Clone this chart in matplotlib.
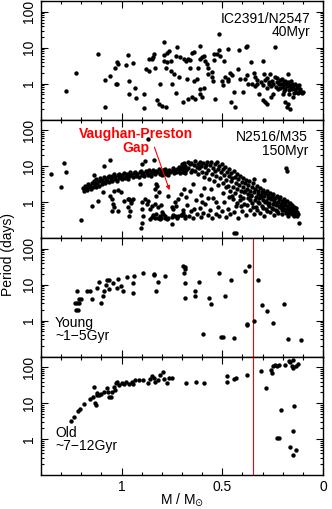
import numpy as np
import matplotlib
matplotlib.use("Agg")
import matplotlib.pyplot as plt
from matplotlib.ticker import LogLocator, FixedLocator, FixedFormatter, MultipleLocator, NullFormatter

plt.rcParams['font.family'] = ['Liberation Sans', 'DejaVu Sans']

# ---- IC2391/N2547 (40 Myr)
m40 = [1.277, 1.228, 1.117, 1.083, 1.084, 1.058, 1.035, 1.021, 1.02, 1.03, 1.022, 0.98,
       0.967, 0.964, 0.964, 0.942, 0.931, 0.926, 0.889, 0.89, 0.88, 0.865, 0.865, 0.85,
       0.845, 0.84, 0.835, 0.823, 0.815, 0.80, 0.78, 0.807, 0.79, 0.79, 0.777, 0.766,
       0.79, 0.774, 0.757, 0.78, 0.757, 0.741, 0.75, 0.724, 0.73, 0.708, 0.691, 0.716,
       0.73, 0.695, 0.68, 0.67, 0.658, 0.675, 0.67, 0.658, 0.65, 0.642, 0.65, 0.634,
       0.642, 0.625, 0.622, 0.609, 0.60, 0.612, 0.592, 0.584, 0.576, 0.573, 0.609, 0.592,
       0.612, 0.60, 0.55, 0.547, 0.54, 0.543, 0.535, 0.526, 0.518, 0.51, 0.515, 0.50,
       0.497, 0.493, 0.488, 0.474, 0.47, 0.47, 0.46, 0.455, 0.452, 0.444, 0.436, 0.424,
       0.416, 0.411, 0.397, 0.381, 0.378, 0.386, 0.378, 0.37, 0.358, 0.353, 0.345, 0.337,
       0.328, 0.32, 0.30, 0.295, 0.287, 0.279, 0.279, 0.27, 0.262, 0.254, 0.246, 0.238,
       0.229, 0.22, 0.213, 0.205, 0.196, 0.188, 0.18, 0.18, 0.172, 0.163, 0.163, 0.155,
       0.147, 0.14, 0.13, 0.122, 0.114, 0.105, 0.097,
       0.34, 0.33, 0.31, 0.30, 0.29, 0.28, 0.27, 0.26, 0.25, 0.24, 0.235, 0.23, 0.225,
       0.215, 0.21, 0.2, 0.2, 0.195, 0.19, 0.185, 0.175, 0.17, 0.165, 0.16, 0.155, 0.15,
       0.145, 0.14, 0.135, 0.125, 0.12, 0.115, 0.11, 0.19, 0.175, 0.17, 0.2, 0.3, 0.26,
       0.55, 0.57]
p40 = [0.64, 1.98, 6.7, 0.22, 1.29, 1.67, 2.67, 4.1, 3.5, 1.0, 0.95, 3.3,
       6.2, 1.2, 0.52, 3.8, 0.76, 0.39, 0.21, 0.52, 2.55, 4.8, 2.3, 5.0,
       5.4, 6.5, 2.8, 0.36, 0.27, 0.245, 0.22, 0.98, 14, 6.2, 7.1, 8.2,
       4.4, 3.9, 4.4, 2.8, 2.3, 1.86, 0.98, 10.2, 6.0, 5.4, 4.8, 1.56,
       0.54, 0.30, 4.4, 4.8, 4.5, 1.35, 0.375, 2.8, 7.0, 7.4, 0.42, 0.37,
       1.2, 1.35, 2.8, 4.8, 5.4, 11.4, 6.0, 4.4, 3.5, 2.8, 0.71, 0.76,
       0.52, 0.42, 2.15, 1.2, 4.5, 6.7, 0.37, 6.9, 8.6, 6.0, 24, 1.2,
       0.92, 4.4, 1.5, 1.2, 1.35, 9.3, 2.0, 0.30, 1.7, 0.58, 0.22, 2.5,
       8.5, 1.35, 0.58, 10.2, 11, 1.35, 1.7, 0.98, 4.0, 1.0, 2.0, 0.88,
       0.98, 0.52, 4.2, 1.8, 0.31, 1.45, 0.27, 0.95, 1.8, 1.21, 0.52, 10.2,
       1.45, 0.98, 0.75, 1.35, 0.64, 1.2, 0.86, 0.22, 1.8, 0.79, 0.20, 1.0,
       0.42, 0.7, 0.85, 0.75, 0.64, 0.56, 0.6,
       1.5, 1.3, 1.1, 0.9, 1.25, 0.75, 1.1, 0.85, 0.95, 1.5, 0.8, 1.1, 0.7,
       1.25, 0.95, 1.0, 0.8, 1.1, 0.7, 0.95, 1.1, 0.65, 0.9, 1.2, 0.7, 0.85,
       0.55, 1.0, 0.6, 0.55, 0.9, 0.7, 0.6, 0.3, 0.27, 0.5, 0.5, 0.35, 0.42,
       1.5, 1.9]

# ---- N2516/M35 (150 Myr), (mass, period) pairs
seq150 = [(1.192, 2.4), (1.186, 2.1), (1.183, 2.9), (1.177, 2.5), (1.171, 2.2), (1.169, 3.2),
          (1.163, 2.6), (1.158, 2.9), (1.152, 2.3), (1.149, 3.5), (1.141, 2.7), (1.139, 3.9),
          (1.134, 3.1), (1.128, 2.6), (1.126, 4.3), (1.121, 3.4), (1.114, 2.9), (1.111, 3.8),
          (1.108, 4.6), (1.099, 3.2), (1.097, 4.2), (1.093, 3.6), (1.085, 5.1), (1.083, 3.3),
          (1.079, 4.4), (1.071, 3.9), (1.069, 4.9), (1.064, 5.5), (1.061, 3.6), (1.052, 4.5),
          (1.049, 5.2), (1.046, 3.9), (1.038, 5.9), (1.033, 4.4), (1.031, 5.0), (1.024, 3.8),
          (1.019, 5.6), (1.015, 4.6), (1.011, 6.2), (1.003, 5.1), (0.998, 4.3), (0.996, 5.8),
          (0.988, 6.5), (0.983, 4.7), (0.979, 5.4), (0.971, 6.1), (0.968, 4.5), (0.961, 5.2),
          (0.957, 6.7), (0.951, 5.8), (0.944, 4.9), (0.938, 6.4), (0.933, 7.0), (0.927, 5.5),
          (0.921, 6.1), (0.916, 5.1), (0.909, 6.9), (0.903, 7.5), (0.898, 5.7), (0.893, 6.3),
          (0.887, 5.2), (0.881, 7.2), (0.876, 6.6), (0.871, 5.8), (0.866, 7.6), (0.861, 6.2),
          (0.853, 5.5), (0.849, 7.0), (0.844, 8.0), (0.839, 6.4), (0.832, 5.9), (0.828, 7.4),
          (0.822, 6.8), (0.816, 8.3), (0.811, 6.0), (0.806, 7.1), (0.801, 5.6), (0.796, 7.8),
          (0.791, 6.5), (0.786, 8.6), (0.779, 6.1), (0.774, 7.3), (0.768, 5.8), (0.763, 8.0),
          (0.759, 6.8), (0.752, 7.5), (0.747, 9.0), (0.741, 6.3), (0.737, 7.9), (0.731, 6.9),
          (0.726, 8.5), (0.719, 7.2), (0.716, 9.6), (0.711, 6.6), (0.704, 8.2), (0.699, 10.4),
          (0.694, 7.0), (0.689, 9.1), (0.684, 6.4)]
gk150 = [(1.35, 6.0), (1.302, 2.7), (1.287, 12.1), (1.277, 7.1), (1.203, 0.32), (1.145, 0.79),
         (1.116, 1.09), (1.137, 5.6), (1.058, 14.7), (1.094, 1.94), (1.058, 1.44), (1.05, 1.2),
         (1.04, 2.06), (1.016, 2.2), (1.005, 1.94), (1.045, 0.88), (1.036, 0.71), (1.05, 0.57),
         (0.964, 1.26), (0.954, 1.09), (0.942, 1.21), (0.97, 0.71), (0.959, 0.57), (0.964, 0.42),
         (0.901, 11.8), (0.884, 14.1), (0.909, 3.2), (0.871, 56), (0.9, 0.98), (0.884, 1.21),
         (0.876, 0.88), (0.868, 1.09), (0.851, 0.79), (0.86, 0.64), (0.9, 0.64), (0.893, 0.42),
         (0.9, 0.27), (0.904, 0.19), (0.838, 15), (0.827, 3.2), (0.822, 2.84), (0.835, 2.3),
         (0.827, 1.5), (0.813, 1.86), (0.835, 0.88), (0.818, 0.71), (0.802, 0.82), (0.827, 0.46),
         (0.81, 0.4), (0.799, 0.52), (0.785, 0.42), (0.769, 1.44), (0.752, 0.74), (0.744, 0.64),
         (0.736, 0.98), (0.728, 0.79), (0.749, 0.24), (0.719, 1.21), (0.703, 1.67), (1.02, 0.56),
         (0.99, 1.07), (0.97, 1.2), (0.955, 0.96), (1.087, 10),
         (0.85, 0.38), (0.835, 0.37), (0.818, 0.36), (0.802, 0.36), (0.785, 0.36), (0.769, 0.37),
         (0.752, 0.39), (0.736, 0.4), (0.719, 0.42), (0.703, 0.43), (0.686, 0.42), (0.843, 0.45),
         (0.793, 0.47), (0.744, 0.45), (0.695, 0.5), (0.86, 0.33), (0.81, 0.34), (0.776, 0.33),
         (0.727, 0.37)]
km150 = [(0.702, 11.8), (0.697, 8.8), (0.688, 12.6), (0.683, 10.1), (0.679, 7.6), (0.671, 13.4),
         (0.668, 9.2), (0.662, 11.2), (0.657, 6.8), (0.653, 12.1), (0.648, 8.1), (0.643, 10.6),
         (0.637, 13.8), (0.634, 7.2), (0.628, 9.6), (0.623, 11.9), (0.619, 5.9), (0.614, 8.8),
         (0.611, 13.0), (0.606, 10.3), (0.601, 7.0), (0.596, 12.2), (0.592, 5.1), (0.588, 9.3),
         (0.583, 11.0), (0.579, 6.6), (0.574, 13.4), (0.569, 8.0), (0.566, 4.4), (0.561, 10.6),
         (0.556, 12.8), (0.552, 6.2), (0.547, 9.0), (0.543, 3.8), (0.538, 11.6), (0.534, 7.4),
         (0.529, 5.2), (0.526, 13.1), (0.521, 8.6), (0.517, 10.2), (0.512, 4.6), (0.508, 6.7),
         (0.503, 11.8), (0.499, 3.3), (0.495, 8.2), (0.49, 5.8), (0.487, 9.8), (0.481, 4.2),
         (0.478, 7.1), (0.472, 2.9), (0.469, 5.3), (0.466, 8.6), (0.459, 3.8), (0.456, 6.3),
         (0.451, 4.7), (0.447, 2.6), (0.443, 7.4), (0.438, 5.0), (0.434, 3.4), (0.429, 6.1),
         (0.426, 2.3), (0.421, 4.4), (0.417, 3.0), (0.412, 5.4), (0.408, 2.1), (0.404, 3.7),
         (0.399, 4.7), (0.396, 2.6), (0.391, 1.9), (0.387, 3.4), (0.384, 4.2), (0.378, 2.3),
         (0.374, 1.7), (0.371, 3.0), (0.366, 3.9), (0.362, 2.0), (0.358, 1.5), (0.353, 2.7),
         (0.349, 3.4), (0.345, 4.3), (0.342, 1.9), (0.337, 2.3), (0.333, 1.4), (0.329, 2.9),
         (0.325, 1.7), (0.321, 2.1), (0.316, 1.3), (0.313, 2.5), (0.308, 1.6), (0.304, 1.9),
         (0.299, 1.15), (0.296, 2.2), (0.291, 1.45), (0.288, 1.75), (0.283, 1.05), (0.279, 2.0),
         (0.274, 1.3), (0.271, 1.6), (0.266, 0.95), (0.262, 1.85), (0.258, 1.2), (0.254, 1.45),
         (0.249, 0.9), (0.246, 1.65), (0.241, 1.1), (0.237, 1.3), (0.233, 0.82), (0.229, 1.5),
         (0.224, 1.0), (0.221, 1.2), (0.216, 0.75), (0.212, 1.35), (0.208, 0.9), (0.204, 1.1),
         (0.199, 0.7), (0.195, 1.2), (0.191, 0.85), (0.187, 1.0), (0.183, 0.65), (0.179, 1.1),
         (0.174, 0.78), (0.171, 0.9), (0.166, 0.6), (0.162, 0.95), (0.158, 0.7), (0.153, 0.82),
         (0.149, 0.56), (0.144, 0.75), (0.139, 0.62), (0.134, 0.7), (0.128, 0.52)]
fast150 = [(0.698, 0.44), (0.693, 0.62), (0.684, 0.37), (0.676, 0.82), (0.664, 0.41), (0.655, 0.56),
           (0.646, 0.35), (0.633, 1.12), (0.626, 0.46), (0.613, 0.68), (0.604, 0.39), (0.594, 0.51),
           (0.586, 0.88), (0.573, 0.43), (0.563, 0.62), (0.551, 0.36), (0.544, 1.28), (0.532, 0.47),
           (0.523, 0.73), (0.514, 0.41), (0.502, 0.56), (0.494, 0.98), (0.483, 0.38), (0.474, 0.66),
           (0.463, 0.46), (0.452, 1.45), (0.441, 0.52), (0.432, 0.79), (0.423, 0.37), (0.411, 1.18),
           (0.402, 0.56), (0.393, 0.88), (0.381, 0.43), (0.372, 1.32), (0.363, 0.61), (0.352, 0.93),
           (0.344, 0.46), (0.331, 0.72), (0.323, 1.02), (0.311, 0.51), (0.302, 0.79), (0.293, 0.41),
           (0.284, 0.64), (0.272, 0.88), (0.263, 0.52), (0.252, 0.69), (0.243, 0.43), (0.232, 0.61),
           (0.223, 0.49), (0.213, 0.71), (0.202, 0.46), (0.193, 0.59), (0.182, 0.51), (0.172, 0.41),
           (0.161, 0.54), (0.152, 0.46), (0.142, 0.5), (0.131, 0.4), (0.117, 0.27), (0.444, 0.14),
           (0.43, 0.14), (0.183, 9.2), (0.177, 7.4), (0.292, 4.1),
           (0.447, 1.22), (0.436, 1.82), (0.427, 0.93), (0.414, 1.52), (0.406, 0.76), (0.397, 1.28),
           (0.386, 2.05), (0.377, 0.84), (0.364, 1.12), (0.356, 1.62), (0.347, 0.74), (0.336, 1.18),
           (0.327, 0.6), (0.318, 0.92), (0.307, 1.38), (0.297, 0.69), (0.286, 1.02), (0.277, 0.56),
           (0.268, 0.79), (0.256, 1.28), (0.247, 0.64), (0.238, 0.92), (0.227, 0.56), (0.218, 0.76),
           (0.206, 0.61), (0.197, 0.81), (0.186, 0.55), (0.176, 0.64), (0.167, 0.5), (0.156, 0.61),
           (0.146, 0.41), (0.137, 0.56), (0.124, 0.46),
           (0.662, 2.05), (0.647, 3.1), (0.608, 1.58), (0.591, 2.45), (0.572, 1.32), (0.557, 2.25),
           (0.532, 1.02), (0.519, 2.95), (0.498, 1.78), (0.482, 2.62), (0.468, 1.38), (0.461, 1.98),
           (0.681, 1.42), (0.688, 2.38), (0.641, 0.66), (0.599, 1.02)]
m150, p150 = zip(*(seq150 + gk150 + km150 + fast150))

# ---- Young field (~1-5 Gyr)
m_young = [1.233, 1.223, 1.211, 1.228, 1.216, 1.22, 1.21, 1.20, 1.173, 1.157, 1.145, 1.12,
           1.11, 1.104, 1.091, 1.087, 1.078, 1.071, 1.061, 1.063, 1.041, 1.025, 1.018, 1.005,
           0.995, 0.975, 0.942, 0.94, 0.942, 0.893, 0.84, 0.837, 0.83, 0.818, 0.785, 0.695,
           0.686, 0.683, 0.691, 0.683, 0.686, 0.637, 0.634, 0.614, 0.596, 0.568, 0.556, 0.515,
           0.505, 0.497, 0.485, 0.455, 0.444, 0.386, 0.366, 0.375, 0.375, 0.345, 0.325, 0.304,
           0.279, 0.246, 0.196, 0.172, 0.111]
p_young = [3.0, 3.0, 3.0, 1.98, 1.98, 6.8, 4.0, 4.0, 6.8, 6.8, 3.9, 7.9,
           11.6, 3.0, 4.9, 6.8, 10, 13.5, 13.5, 7.6, 10.9, 8.1, 14.3, 9.4,
           6.8, 16.7, 10.9, 17.8, 5.9, 20.6, 19.8, 18.6, 6.8, 11.6, 17.8, 33.8,
           30.4, 27, 20.6, 10.9, 4.4, 6.8, 4.8, 11.6, 0.43, 4.2, 2.9, 21,
           0.36, 0.34, 4.7, 13.5, 0.32, 24.5, 33, 0.81, 0.75, 0.96, 13.8, 2.7,
           1.8, 0.84, 2.9, 0.31, 0.28]

# ---- Old field (~7-12 Gyr)
m_old = [1.249, 1.236, 1.216, 1.206, 1.186, 1.157, 1.14, 1.137, 1.134, 1.129, 1.124, 1.12,
         1.112, 1.104, 1.087, 1.074, 1.068, 1.063, 1.051, 1.046, 1.038, 1.035, 1.03, 1.021,
         1.013, 1.0, 0.99, 0.98, 0.964, 0.947, 0.942, 0.931, 0.914, 0.893, 0.87, 0.861,
         0.848, 0.84, 0.832, 0.82, 0.81, 0.794, 0.79, 0.777, 0.766, 0.749, 0.678, 0.63,
         0.592, 0.477, 0.477, 0.444, 0.434, 0.378, 0.307, 0.282, 0.259, 0.254, 0.246, 0.238,
         0.229, 0.221, 0.229, 0.22, 0.21, 0.188, 0.167, 0.163, 0.15, 0.155, 0.147, 0.134,
         0.122, 0.163, 0.15, 0.144, 0.147, 0.134]
p_old = [3.1, 4.1, 5.9, 6.8, 9.4, 12.7, 15, 27.8, 10.2, 8.8, 16.8, 18.7,
         16.8, 18, 21, 26, 20, 15, 15, 20, 29, 24, 36, 40,
         32, 36, 34, 38, 34, 38, 34, 43, 45, 45, 37, 47,
         56, 50, 40, 43, 62, 74, 47, 36, 50, 50, 37, 40,
         36, 58, 40, 47, 50, 62, 77, 26, 82, 69, 111, 119,
         107, 119, 1.1, 1.07, 6.6, 114, 150, 138, 165, 107, 95, 111,
         126, 0.6, 1.7, 8.2, 0.37, 0.49]

labels = ["IC2391/N2547\n40Myr", "N2516/M35\n150Myr", "Young\n~1\u22125Gyr", "Old\n~7\u221212Gyr"]
masses = [m40, m150, m_young, m_old]
periods = [p40, p150, p_young, p_old]
vp_mass = 0.35

fig, axes = plt.subplots(4, 1, figsize=(3.32, 5.09), dpi=100, sharex=True)
fig.subplots_adjust(left=0.1235, right=0.973, top=0.998, bottom=0.0668, hspace=0)

for i, ax in enumerate(axes):
    ax.scatter(masses[i], periods[i], s=10, c='black', linewidths=0, zorder=3)
    ax.set_yscale('log')
    ax.set_ylim(0.1, 200)
    ax.set_xlim(1.4, 0)
    ax.yaxis.set_major_locator(FixedLocator([1, 10, 100]))
    ax.yaxis.set_major_formatter(FixedFormatter(['1', '10', '100']))
    ax.yaxis.set_minor_locator(LogLocator(base=10, subs=np.arange(2, 10)))
    ax.yaxis.set_minor_formatter(NullFormatter())
    ax.xaxis.set_major_locator(FixedLocator([1.0, 0.5, 0.0]))
    ax.xaxis.set_minor_locator(MultipleLocator(0.1))
    ax.tick_params(which='both', direction='in', top=True, right=True, labelsize=10)
    ax.tick_params(which='major', length=5, width=0.8)
    ax.tick_params(which='minor', length=2.5, width=0.8)
    for lab in ax.get_yticklabels():
        lab.set_rotation(90)
        lab.set_va('center')
    for s in ax.spines.values():
        s.set_linewidth(1.0)
    if i >= 2:
        ax.axvline(vp_mass, color='red', lw=0.8, zorder=2)

axes[0].text(0.955, 0.91, labels[0], transform=axes[0].transAxes, ha='right', va='top',
             fontsize=10, linespacing=0.95)
axes[1].text(0.947, 0.91, labels[1], transform=axes[1].transAxes, ha='right', va='top',
             fontsize=10, linespacing=0.95)
axes[2].text(0.05, 0.11, labels[2], transform=axes[2].transAxes, ha='left', va='bottom',
             fontsize=10, linespacing=0.95)
axes[3].text(0.05, 0.185, labels[3], transform=axes[3].transAxes, ha='left', va='bottom',
             fontsize=10, linespacing=0.95)

axes[1].text(0.337, 0.818, "Vaughan-Preston\nGap", transform=axes[1].transAxes,
             ha='center', va='center', color='red', fontweight='bold', fontsize=10,
             linespacing=0.95)
axes[1].annotate("", xy=(0.762, 2.15), xytext=(0.837, 34),
                 arrowprops=dict(arrowstyle='-|>', color='red', lw=0.8,
                                 mutation_scale=6, shrinkA=0, shrinkB=0))

axes[3].xaxis.set_major_formatter(FixedFormatter(['1', '0.5', '0']))
axes[3].set_xlabel(r"M / M$_{\odot}$", fontsize=10, labelpad=-1.5)
fig.text(0.025, 0.5, "Period (days)", rotation=90, ha='center', va='center', fontsize=10)

fig.savefig("out.png", dpi=100)
